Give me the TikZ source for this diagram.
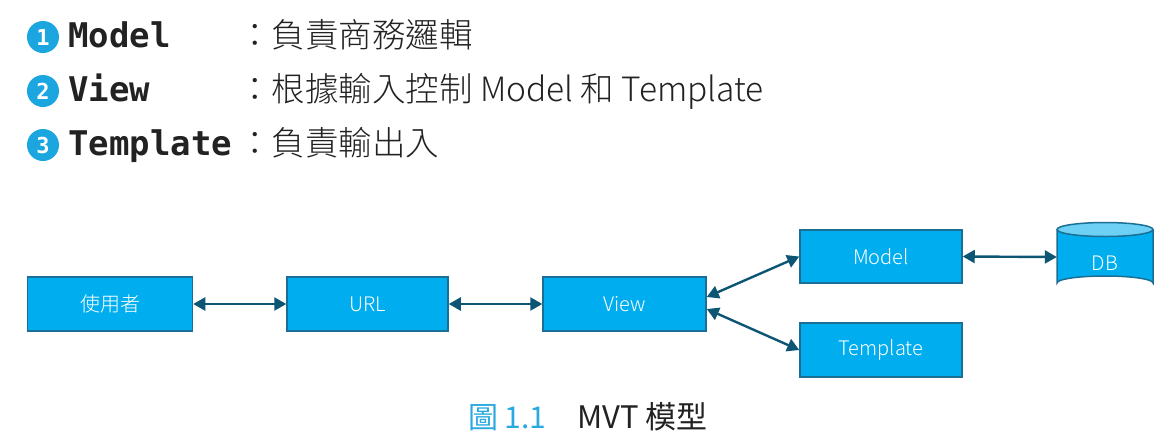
\documentclass[tikz,border=0pt]{standalone}
\usepackage{fontspec}
\setmainfont{Noto Sans CJK TC}
\newfontfamily\cjk{Noto Sans CJK TC}[UprightFont=* Light]
\newfontfamily\cjkreg{Noto Sans CJK TC}
\newfontfamily\monob{DejaVu Sans Mono}
\usetikzlibrary{arrows.meta}
\definecolor{boxfill}{HTML}{00AEEF}
\definecolor{boxline}{HTML}{1B6F94}
\definecolor{arrowc}{HTML}{0D5673}
\definecolor{dbtop}{HTML}{6FD0F6}
\definecolor{numc}{HTML}{1BA6E0}
\definecolor{capc}{HTML}{29A9E1}
\definecolor{txt}{HTML}{222222}
\tikzset{
  box/.style={draw=boxline, line width=1.5, fill=boxfill, minimum width=163, minimum height=54, inner sep=0, text=white, font=\cjk\fontsize{20}{20}\selectfont},
  conn/.style={draw=arrowc, line width=2.4, {Triangle[length=12,width=13]}-{Triangle[length=12,width=13]}},
  num/.style={circle, fill=numc, minimum size=32, inner sep=0, text=white, font=\monob\bfseries\fontsize{22}{22}\selectfont},
  kw/.style={anchor=base west, inner sep=0, text=txt, font=\monob\bfseries\fontsize{34}{34}\selectfont},
  desc/.style={anchor=base west, inner sep=0, text=txt, font=\cjk\fontsize{33.5}{33.5}\selectfont},
}
\begin{document}
\begin{tikzpicture}[x=1pt, y=-1pt]
\useasboundingbox (0,0) rectangle (1173,437);
% header
\node[num] (n1) at (43,37) {1};
\node[num] (n2) at (43,91) {2};
\node[num] (n3) at (43,145) {3};
\node[kw] (k1) at (68,47) {Model};
\node[kw] (k2) at (68,101) {View};
\node[kw] (k3) at (68,155) {Template};
\node[desc] (d1) at (238,47) {：負責商務邏輯};
\node[desc] (d2) at (238,101) {：根據輸入控制 Model 和 Template};
\node[desc] (d3) at (238,155) {：負責輸出入};
% boxes
\node[box, minimum width=165] (user) at (110,304) {使用者};
\node[box, minimum width=161] (url) at (367.5,304) {URL};
\node[box] (view) at (624.5,304) {View};
\node[box, minimum width=162, minimum height=53] (model) at (881,256.5) {Model};
\node[box, minimum width=162] (tmpl) at (881,350) {Template};
% DB cylinder
\node[minimum width=96, minimum height=68, inner sep=0] (db) at (1105,257) {};
\fill[boxfill] (1057,229.5) -- (1057,283) arc[start angle=180, end angle=360, x radius=48, y radius=7] -- (1153,229.5) -- cycle;
\draw[boxline, line width=1.5] (1057,229.5) -- (1057,283) arc[start angle=180, end angle=360, x radius=48, y radius=7] -- (1153,229.5);
\draw[boxline, line width=1.5, fill=dbtop] (1105,229.5) ellipse[x radius=48, y radius=7];
\node[text=white, font=\cjk\fontsize{20}{20}\selectfont] (dbl) at (1105,263) {DB};
% connectors
\draw[conn] (user.east) -- (url.west);
\draw[conn] (url.east) -- (view.west);
\draw[conn] ([yshift=7]view.east) -- (model.west);
\draw[conn] ([yshift=-5]view.east) -- (tmpl.west);
\draw[conn] (model.east) -- (db.west);
% caption
\node[anchor=base west, inner sep=0, text=capc, font=\cjkreg\fontsize{30}{30}\selectfont] (cap1) at (468,428) {圖 1.1};
\node[anchor=base west, inner sep=0, text=txt, font=\cjkreg\fontsize{31}{31}\selectfont] (cap2) at (577,428) {MVT 模型};
\end{tikzpicture}
\end{document}
